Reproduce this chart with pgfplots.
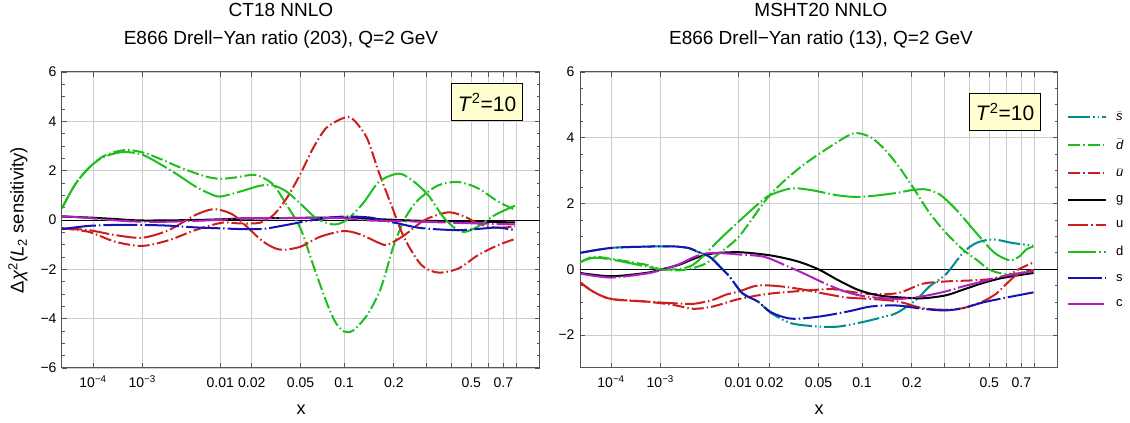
\documentclass[border=0pt]{standalone}
\usepackage{fontspec}
\setmainfont{Liberation Sans}
\usepackage{pgfplots}
\pgfplotsset{compat=1.18}
\definecolor{cteal}{RGB}{0,140,140}
\definecolor{cgreen}{RGB}{30,190,30}
\definecolor{cred}{RGB}{204,30,30}
\definecolor{cblue}{RGB}{20,20,180}
\definecolor{cpurple}{RGB}{175,30,190}
\definecolor{gridc}{RGB}{205,205,205}
\definecolor{framec}{RGB}{85,85,85}
\definecolor{boxfill}{RGB}{255,255,208}

\tikzset{
  cv/.style={line width=2pt, smooth},
  sbarst/.style={cv, cteal, dash pattern=on 22pt off 3pt on 1.5pt off 3pt on 1.5pt off 3pt},
  dbarst/.style={cv, cgreen, dash pattern=on 12pt off 3pt on 1.5pt off 3pt},
  ubarst/.style={cv, cred, dash pattern=on 12pt off 3pt on 1.5pt off 3pt},
  gst/.style={cv, black},
  ust/.style={cv, cred, dash pattern=on 20pt off 3pt on 1.5pt off 3pt},
  dst/.style={cv, cgreen, dash pattern=on 28pt off 3pt on 1.5pt off 3pt},
  sst/.style={cv, cblue, dash pattern=on 34pt off 3pt on 1.5pt off 3pt},
  cst/.style={cv, cpurple, dash pattern=on 36pt off 3pt on 1.5pt off 3pt},
}

\pgfplotsset{
 pdfstyle/.style={
  scale only axis, width=478pt, height=296pt,
  xmin=0.1, xmax=1,
  xtick={0.158489,0.251189,0.398107,0.457305,0.549280,0.630957,0.724780,0.786003,0.832553,0.870551,0.902880,0.931150,0.956352},
  xticklabels={10\textsuperscript{−4},10\textsuperscript{−3},0.01,0.02,0.05,0.1,0.2,,,0.5,,0.7,},
  grid=major, major grid style={gridc, line width=0.7pt},
  axis line style={framec, line width=1pt},
  tick style={framec, line width=0.8pt},
  tick align=inside,
  major tick length=5pt, minor tick length=3pt,
  minor y tick num=3,
  ticklabel style={font=\fontsize{14}{17}\selectfont},
  xticklabel style={anchor=base, yshift=-20pt},
  yticklabel style={xshift=-2pt},
  clip=true,
 }
}

\begin{document}
\begin{tikzpicture}
% ---------------- left panel: CT18 ----------------
\begin{axis}[pdfstyle, at={(0pt,0pt)}, anchor=south west,
  ymin=-6, ymax=6, ytick={-6,-4,-2,0,2,4,6}, yticklabels={−6,−4,−2,0,2,4,6}]
\addplot[black, line width=0.8pt, forget plot, sharp plot] coordinates {(0.1,0) (1,0)};
% dbar
\addplot[dbarst] coordinates {(0.100,0.48) (0.125,1.45) (0.150,2.10) (0.175,2.55) (0.200,2.76) (0.225,2.84) (0.255,2.72) (0.288,2.45) (0.320,2.15) (0.351,1.90) (0.375,1.74) (0.397,1.67) (0.425,1.72) (0.457,1.83) (0.473,1.77) (0.498,1.43) (0.523,0.61) (0.549,-0.34) (0.573,-1.83) (0.598,-3.33) (0.615,-4.15) (0.631,-4.52) (0.648,-4.48) (0.674,-3.87) (0.697,-2.95) (0.710,-2.10) (0.722,-1.20) (0.735,-0.45) (0.748,0.15) (0.770,0.80) (0.808,1.40) (0.846,1.54) (0.883,1.29) (0.921,0.75) (0.953,0.41)};
% ubar
\addplot[ubarst] coordinates {(0.100,-0.34) (0.150,-0.48) (0.200,-0.88) (0.251,-1.05) (0.301,-0.82) (0.351,-0.41) (0.401,-0.11) (0.435,-0.14) (0.473,-0.11) (0.498,0.20) (0.523,0.88) (0.548,1.83) (0.573,2.92) (0.598,3.74) (0.631,4.14) (0.648,4.08) (0.674,3.33) (0.696,1.97) (0.720,0.61) (0.745,-0.75) (0.777,-1.83) (0.808,-2.13) (0.846,-1.97) (0.883,-1.43) (0.921,-1.02) (0.953,-0.77)};
% g
\addplot[gst] coordinates {(0.100,0.14) (0.150,0.10) (0.200,0.04) (0.251,-0.02) (0.351,0.00) (0.435,0.05) (0.523,0.08) (0.623,0.10) (0.699,0.03) (0.770,-0.03) (0.846,-0.05) (0.953,-0.10)};
% u
\addplot[ust] coordinates {(0.100,-0.34) (0.150,-0.41) (0.200,-0.61) (0.251,-0.72) (0.301,-0.41) (0.351,0.20) (0.382,0.43) (0.401,0.39) (0.423,0.20) (0.448,-0.27) (0.479,-0.88) (0.510,-1.20) (0.548,-1.09) (0.586,-0.68) (0.630,-0.45) (0.661,-0.58) (0.699,-0.95) (0.714,-1.00) (0.745,-0.61) (0.783,0.00) (0.827,0.31) (0.858,0.14) (0.883,-0.14) (0.915,-0.31) (0.953,-0.27)};
% d
\addplot[dst] coordinates {(0.100,0.48) (0.125,1.45) (0.150,2.10) (0.175,2.52) (0.200,2.70) (0.219,2.76) (0.251,2.65) (0.282,2.30) (0.313,1.90) (0.351,1.36) (0.375,1.10) (0.397,0.95) (0.435,1.15) (0.473,1.39) (0.498,1.40) (0.523,1.15) (0.548,0.68) (0.579,0.07) (0.611,-0.18) (0.636,0.00) (0.667,0.68) (0.697,1.55) (0.733,1.88) (0.758,1.63) (0.789,1.02) (0.820,0.07) (0.852,-0.48) (0.883,-0.27) (0.915,0.20) (0.953,0.58)};
% s
\addplot[sst] coordinates {(0.100,-0.37) (0.150,-0.24) (0.200,-0.20) (0.251,-0.20) (0.301,-0.23) (0.351,-0.30) (0.401,-0.34) (0.440,-0.37) (0.479,-0.36) (0.523,-0.20) (0.573,0.00) (0.630,0.14) (0.680,0.10) (0.700,0.00) (0.733,-0.14) (0.770,-0.31) (0.808,-0.38) (0.852,-0.41) (0.896,-0.34) (0.921,-0.31) (0.953,-0.41)};
% c
\addplot[cst] coordinates {(0.100,0.16) (0.150,0.08) (0.225,-0.05) (0.301,-0.07) (0.401,0.01) (0.435,0.07) (0.548,0.08) (0.630,0.07) (0.680,-0.02) (0.745,-0.05) (0.820,-0.10) (0.883,-0.14) (0.953,-0.18)};
\end{axis}

% ---------------- right panel: MSHT20 ----------------
\begin{axis}[pdfstyle, at={(518pt,0pt)}, anchor=south west,
  ymin=-3, ymax=6, ytick={-2,0,2,4,6}, yticklabels={−2,0,2,4,6},
  legend style={at={(1,0.88)}, anchor=north west, xshift=6pt, draw=none, fill=none,
    font=\fontsize{13}{15}\selectfont, row sep=13pt, column sep=7pt, legend cell align=left},
  legend image code/.code={\draw[#1, sharp plot] (0pt,0pt) -- (38pt,0pt);}]
\addplot[black, line width=0.8pt, forget plot, sharp plot] coordinates {(0.1,0) (1,0)};
% sbar
\addplot[sbarst] coordinates {(0.100,0.50) (0.158,0.65) (0.224,0.69) (0.273,0.70) (0.304,0.65) (0.319,0.55) (0.344,0.38) (0.363,0.09) (0.382,-0.23) (0.406,-0.73) (0.435,-0.98) (0.460,-1.33) (0.498,-1.64) (0.549,-1.74) (0.587,-1.74) (0.636,-1.59) (0.673,-1.44) (0.697,-1.32) (0.733,-0.93) (0.758,-0.52) (0.789,-0.15) (0.821,0.50) (0.846,0.80) (0.877,0.91) (0.915,0.80) (0.953,0.72)};
\addlegendentry{$\bar{\textit{s}}$}
% dbar
\addplot[dbarst] coordinates {(0.100,0.21) (0.124,0.38) (0.158,0.32) (0.224,0.14) (0.251,0.00) (0.287,-0.03) (0.313,0.04) (0.338,0.19) (0.363,0.50) (0.400,1.01) (0.457,2.25) (0.510,3.04) (0.554,3.55) (0.604,4.06) (0.623,4.14) (0.648,4.01) (0.673,3.66) (0.699,3.15) (0.725,2.54) (0.758,1.72) (0.789,1.11) (0.821,0.60) (0.846,0.30) (0.871,-0.01) (0.896,-0.13) (0.921,-0.13) (0.954,-0.02)};
\addlegendentry{$\bar{\textit{d}}$}
% ubar
\addplot[ubarst] coordinates {(0.100,-0.39) (0.124,-0.67) (0.158,-0.90) (0.224,-0.98) (0.275,-1.08) (0.313,-1.20) (0.350,-1.13) (0.400,-0.90) (0.457,-0.74) (0.522,-0.65) (0.573,-0.60) (0.604,-0.67) (0.648,-0.75) (0.699,-0.72) (0.745,-0.44) (0.787,-0.37) (0.833,-0.34) (0.871,-0.30) (0.903,-0.20) (0.928,0.02) (0.954,0.21)};
\addlegendentry{$\bar{\textit{u}}$}
% g
\addplot[gst] coordinates {(0.100,-0.11) (0.158,-0.21) (0.224,-0.11) (0.251,-0.01) (0.287,0.14) (0.319,0.35) (0.350,0.48) (0.400,0.52) (0.460,0.42) (0.510,0.24) (0.549,0.00) (0.585,-0.32) (0.623,-0.62) (0.661,-0.79) (0.699,-0.85) (0.745,-0.88) (0.789,-0.79) (0.821,-0.62) (0.858,-0.42) (0.896,-0.26) (0.954,-0.11)};
\addlegendentry{g}
% u
\addplot[ust] coordinates {(0.100,-0.39) (0.124,-0.67) (0.158,-0.90) (0.224,-0.98) (0.275,-1.03) (0.313,-1.05) (0.350,-0.93) (0.375,-0.77) (0.400,-0.67) (0.435,-0.49) (0.479,-0.52) (0.522,-0.62) (0.560,-0.74) (0.604,-0.86) (0.648,-0.90) (0.699,-0.98) (0.745,-1.18) (0.787,-1.23) (0.821,-1.18) (0.858,-0.98) (0.883,-0.75) (0.896,-0.55) (0.909,-0.35) (0.921,-0.18) (0.940,-0.06) (0.954,-0.03)};
\addlegendentry{u}
% d
\addplot[dst] coordinates {(0.100,0.21) (0.124,0.35) (0.158,0.30) (0.224,0.09) (0.251,0.00) (0.287,0.01) (0.313,0.14) (0.338,0.50) (0.363,0.91) (0.400,1.47) (0.435,1.98) (0.457,2.25) (0.498,2.46) (0.535,2.41) (0.585,2.25) (0.623,2.20) (0.661,2.25) (0.699,2.33) (0.725,2.41) (0.751,2.43) (0.777,2.28) (0.808,1.82) (0.846,1.11) (0.877,0.55) (0.896,0.35) (0.912,0.27) (0.928,0.40) (0.940,0.60) (0.954,0.70)};
\addlegendentry{d}
% s
\addplot[sst] coordinates {(0.100,0.50) (0.158,0.65) (0.224,0.69) (0.273,0.70) (0.304,0.65) (0.319,0.55) (0.344,0.38) (0.363,0.09) (0.382,-0.23) (0.406,-0.73) (0.435,-0.98) (0.460,-1.31) (0.498,-1.50) (0.549,-1.44) (0.605,-1.28) (0.648,-1.13) (0.697,-1.10) (0.745,-1.20) (0.787,-1.25) (0.821,-1.18) (0.858,-1.01) (0.896,-0.88) (0.954,-0.70)};
\addlegendentry{s}
% c
\addplot[cst] coordinates {(0.100,-0.13) (0.158,-0.25) (0.224,-0.13) (0.251,-0.03) (0.287,0.16) (0.319,0.40) (0.350,0.50) (0.400,0.45) (0.447,0.38) (0.491,0.09) (0.522,-0.13) (0.560,-0.42) (0.598,-0.67) (0.636,-0.82) (0.699,-0.90) (0.745,-0.82) (0.789,-0.67) (0.821,-0.52) (0.858,-0.37) (0.896,-0.21) (0.954,-0.06)};
\addlegendentry{c}
\end{axis}

% ---------------- text ----------------
\node[anchor=base, font=\fontsize{19}{22}\selectfont] at (219pt,351pt) {CT18 NNLO};
\node[anchor=base, font=\fontsize{19}{22}\selectfont] at (219pt,323pt) {E866 Drell−Yan ratio (203), Q=2 GeV};
\node[anchor=base, font=\fontsize{19}{22}\selectfont] at (759pt,351pt) {MSHT20 NNLO};
\node[anchor=base, font=\fontsize{19}{22}\selectfont] at (759pt,323pt) {E866 Drell−Yan ratio (13), Q=2 GeV};
\node[anchor=base, font=\fontsize{18}{22}\selectfont] at (239pt,-46pt) {x};
\node[anchor=base, font=\fontsize{18}{22}\selectfont] at (757pt,-46pt) {x};
\node[rotate=90, anchor=center, font=\fontsize{18.5}{21}\selectfont] at (-44pt,148pt) {Δ\textit{χ}\textsuperscript{2}(\textit{L}\textsubscript{2} sensitivity)};
\node[draw=black, fill=boxfill, line width=1pt, minimum width=71pt, minimum height=37pt, inner sep=0pt, font=\fontsize{21}{24}\selectfont] at (425pt,265.5pt) {\textit{T}\textsuperscript{2}=10};
\node[draw=black, fill=boxfill, line width=1pt, minimum width=71pt, minimum height=37pt, inner sep=0pt, font=\fontsize{21}{24}\selectfont] at (943pt,256pt) {\textit{T}\textsuperscript{2}=10};

\pgfresetboundingbox
\path[use as bounding box] (-62pt,-55pt) rectangle (1068pt,368pt);
\end{tikzpicture}
\end{document}
